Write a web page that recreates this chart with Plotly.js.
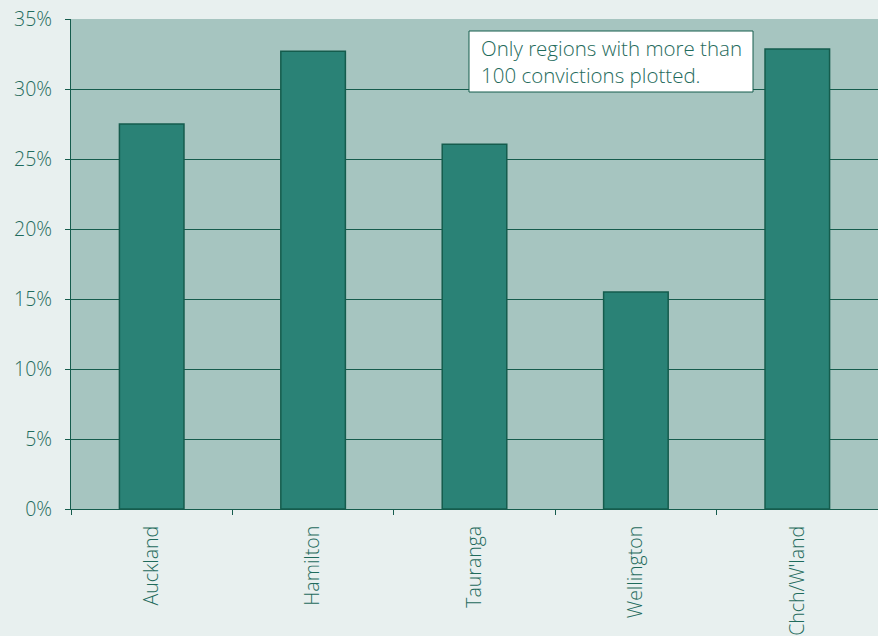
<!DOCTYPE html>
<html>
<head>
<meta charset="utf-8">
<script src="https://cdn.plot.ly/plotly-3.0.1.min.js"></script>
<style>html,body{margin:0;padding:0;background:#E8F0EF;}#chart{width:878px;height:636px;}</style>
</head>
<body>
<div id="chart"></div>
<script>
const regions = ["Auckland", "Hamilton", "Tauranga", "Wellington", "Chch/W'land"];
const shares = [0.275, 0.327, 0.2605, 0.155, 0.3285];
const yTicks = [0, 0.05, 0.10, 0.15, 0.20, 0.25, 0.30, 0.35];
const yTickLabels = ["0%", "5%", "10%", "15%", "20%", "25%", "30%", "35%"];
const noteText = "Only regions with more than<br>100 convictions plotted.";

const textColor = "#1F6B5C";
const lineColor = "#155C4D";

const trace = {
  type: "bar",
  x: regions,
  y: shares,
  marker: { color: "#2A8276", line: { color: lineColor, width: 1.5 } },
  hoverinfo: "none"
};

const layout = {
  width: 878, height: 636,
  margin: { l: 71, r: 0, t: 19, b: 127, pad: 0 },
  paper_bgcolor: "#E8F0EF",
  plot_bgcolor: "#A6C5C0",
  bargap: 0.6,
  showlegend: false,
  font: { family: "Open Sans, Noto Sans, sans-serif", color: textColor, size: 18, weight: 300 },
  xaxis: {
    type: "category",
    tickangle: -90,
    showline: true, linecolor: lineColor, linewidth: 1,
    ticks: "outside", tickson: "boundaries", ticklen: 5, tickcolor: lineColor,
    showgrid: false, zeroline: false,
    tickfont: { size: 19.5, color: textColor, weight: 300 },
    ticklabelstandoff: 8,
    fixedrange: true
  },
  yaxis: {
    range: [0, 0.35],
    tickvals: yTicks, ticktext: yTickLabels,
    showline: true, linecolor: lineColor, linewidth: 1,
    ticks: "outside", ticklen: 5, tickcolor: lineColor,
    showgrid: true, gridcolor: lineColor, gridwidth: 1,
    zeroline: false,
    tickfont: { size: 19.5, color: textColor, weight: 300 },
    ticklabelstandoff: 9,
    fixedrange: true
  },
  shapes: [{
    type: "rect", xref: "paper", yref: "paper",
    x0: (469 - 71) / 807, x1: (753 - 71) / 807,
    y0: (509 - 92) / 490, y1: (509 - 31) / 490,
    fillcolor: "#FFFFFF", line: { color: lineColor, width: 1 }
  }],
  annotations: [{
    xref: "paper", yref: "paper",
    x: (479 - 71) / 807, y: (509 - 61.5) / 490,
    xanchor: "left", yanchor: "middle", align: "left",
    text: noteText, showarrow: false,
    font: { size: 20.5, color: textColor, weight: 300 }
  }]
};

Plotly.newPlot("chart", [trace], layout, { displayModeBar: false, staticPlot: true });
</script>
</body>
</html>
